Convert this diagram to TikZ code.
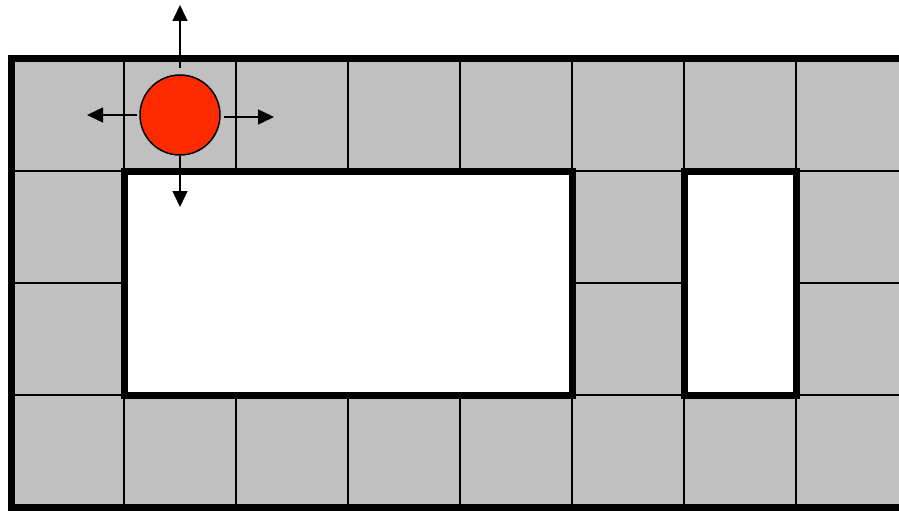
\documentclass[tikz,border=0pt]{standalone}
\usetikzlibrary{arrows.meta}
\definecolor{cellgray}{RGB}{192,192,192}
\definecolor{ballred}{RGB}{255,42,0}
\tikzset{
  thinline/.style={line width=1.6pt, black},
  thickline/.style={line width=7pt, black},
  hole/.style={fill=white, line width=7pt, draw=black},
  move/.style={line width=1.5pt, -{Triangle[length=16pt,width=15pt]}},
  ball/.style={circle, fill=ballred, draw=black, line width=1.5pt, minimum size=80pt, inner sep=0pt}
}
\begin{document}
\begin{tikzpicture}[x=1pt,y=-1pt]
\useasboundingbox (0,0) rectangle (899,511);
\begin{scope}
\clip (0,0) rectangle (899,511);
\fill[cellgray] (11.5,58.5) rectangle (910,507);
\foreach \x in {124,236,348,460,572,684,796}
  \draw[thinline] (\x,58.5) -- (\x,507);
\foreach \y in {171,283,395}
  \draw[thinline] (11.5,\y) -- (910,\y);
\draw[thickline, line cap=rect] (910,58.5) -- (11.5,58.5) -- (11.5,507) -- (910,507);
\draw[hole] (124,171) rectangle (572,395);
\draw[hole] (684,171) rectangle (796,395);
\end{scope}
\node[ball] (ball) at (180,115) {};
\coordinate (upS) at (180,68);
\coordinate (upE) at (180,5);
\coordinate (leftS) at (137,115);
\coordinate (leftE) at (87,115);
\coordinate (rightS) at (224,117);
\coordinate (rightE) at (274,117);
\coordinate (downE) at (180,207);
\draw[move] (upS) -- (upE);
\draw[move] (leftS) -- (leftE);
\draw[move] (rightS) -- (rightE);
\draw[move] (ball.south) -- (downE);
\end{tikzpicture}
\end{document}
